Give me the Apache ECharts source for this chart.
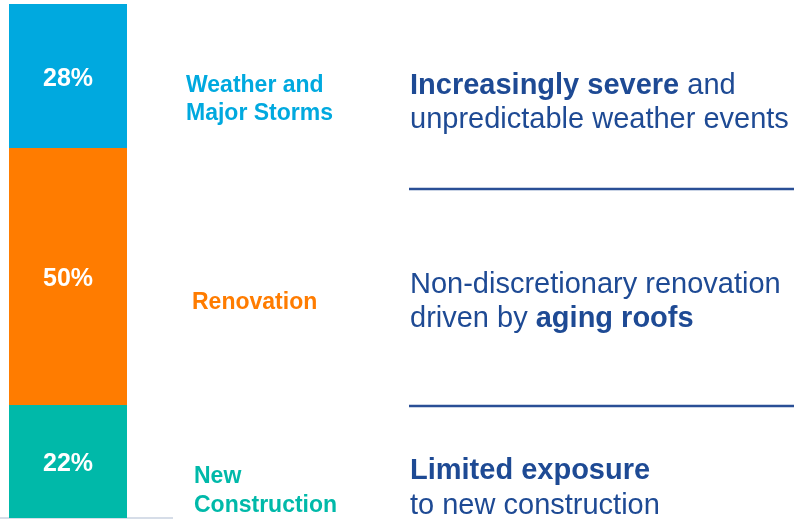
<!DOCTYPE html>
<html>
<head>
<meta charset="utf-8">
<script src="https://cdn.jsdelivr.net/npm/echarts@6/dist/echarts.min.js"></script>
<style>
  html, body { margin: 0; padding: 0; background: #ffffff; }
  #chart { width: 794px; height: 519px; }
</style>
</head>
<body>
<div id="chart"></div>
<script>
// Revenue mix by demand driver (top to bottom)
const drivers = ['Weather and\nMajor Storms', 'Renovation', 'New\nConstruction'];
const shares = [28, 50, 22];
const driverColors = ['#00A9DF', '#FF7C00', '#00B9A9'];
const descriptions = [
  '{b|Increasingly severe} {r|and}\n{r|unpredictable weather events}',
  '{r|Non-discretionary renovation}\n{r|driven by }{b|aging roofs}',
  '{b|Limited exposure}\n{r|to new construction}'
];

const FONT = "'Liberation Sans', Arial, Helvetica, sans-serif";
const NAVY = '#1E4A94';

// stack from the bottom segment upward
const order = [2, 1, 0];
const series = order.map(i => ({
  name: drivers[i].replace('\n', ' '),
  type: 'bar',
  stack: 'mix',
  barWidth: '100%',
  data: [shares[i]],
  itemStyle: { color: driverColors[i] },
  label: {
    show: true,
    position: 'inside',
    offset: [0, 3],
    formatter: '{c}%',
    color: '#ffffff',
    fontFamily: FONT,
    fontWeight: 'bold',
    fontSize: 25
  },
  emphasis: { disabled: true }
}));

// side captions and descriptions
const labelTops = [72, 289, 462];
const labelLineHeights = [28, 28, 29];
const labelLefts = [186, 192, 194];
const descTops = [69, 268, 453];
const descLineHeights = [34, 34, 35];
const dividerYs = [189, 406];

const graphic = [];
drivers.forEach((d, i) => {
  graphic.push({
    type: 'text',
    left: labelLefts[i],
    top: labelTops[i],
    style: {
      text: d,
      fill: driverColors[i],
      font: 'bold 23px ' + FONT,
      lineHeight: labelLineHeights[i]
    }
  });
  graphic.push({
    type: 'text',
    left: 410,
    top: descTops[i],
    style: {
      text: descriptions[i],
      fill: NAVY,
      fontFamily: FONT,
      fontSize: 29,
      lineHeight: descLineHeights[i],
      rich: {
        b: { fontWeight: 'bold', fontSize: 29, fontFamily: FONT, fill: NAVY, lineHeight: descLineHeights[i] },
        r: { fontWeight: 'normal', fontSize: 29, fontFamily: FONT, fill: NAVY, lineHeight: descLineHeights[i] }
      }
    }
  });
});
dividerYs.forEach(y => {
  graphic.push({
    type: 'line',
    shape: { x1: 409, y1: y, x2: 794, y2: y },
    style: { stroke: '#2A4F96', lineWidth: 2.5 }
  });
});
graphic.push({
  type: 'line',
  shape: { x1: 0, y1: 518, x2: 173, y2: 518 },
  style: { stroke: '#C8D2E0', lineWidth: 1.5 }
});

const chart = echarts.init(document.getElementById('chart'), null, { renderer: 'canvas' });
chart.setOption({
  animation: false,
  backgroundColor: '#ffffff',
  grid: { left: 9, top: 4, width: 118, height: 514 },
  xAxis: {
    type: 'category',
    data: ['Mix'],
    show: false
  },
  yAxis: {
    type: 'value',
    min: 0,
    max: 100,
    show: false
  },
  series: series,
  graphic: graphic
});
</script>
</body>
</html>
